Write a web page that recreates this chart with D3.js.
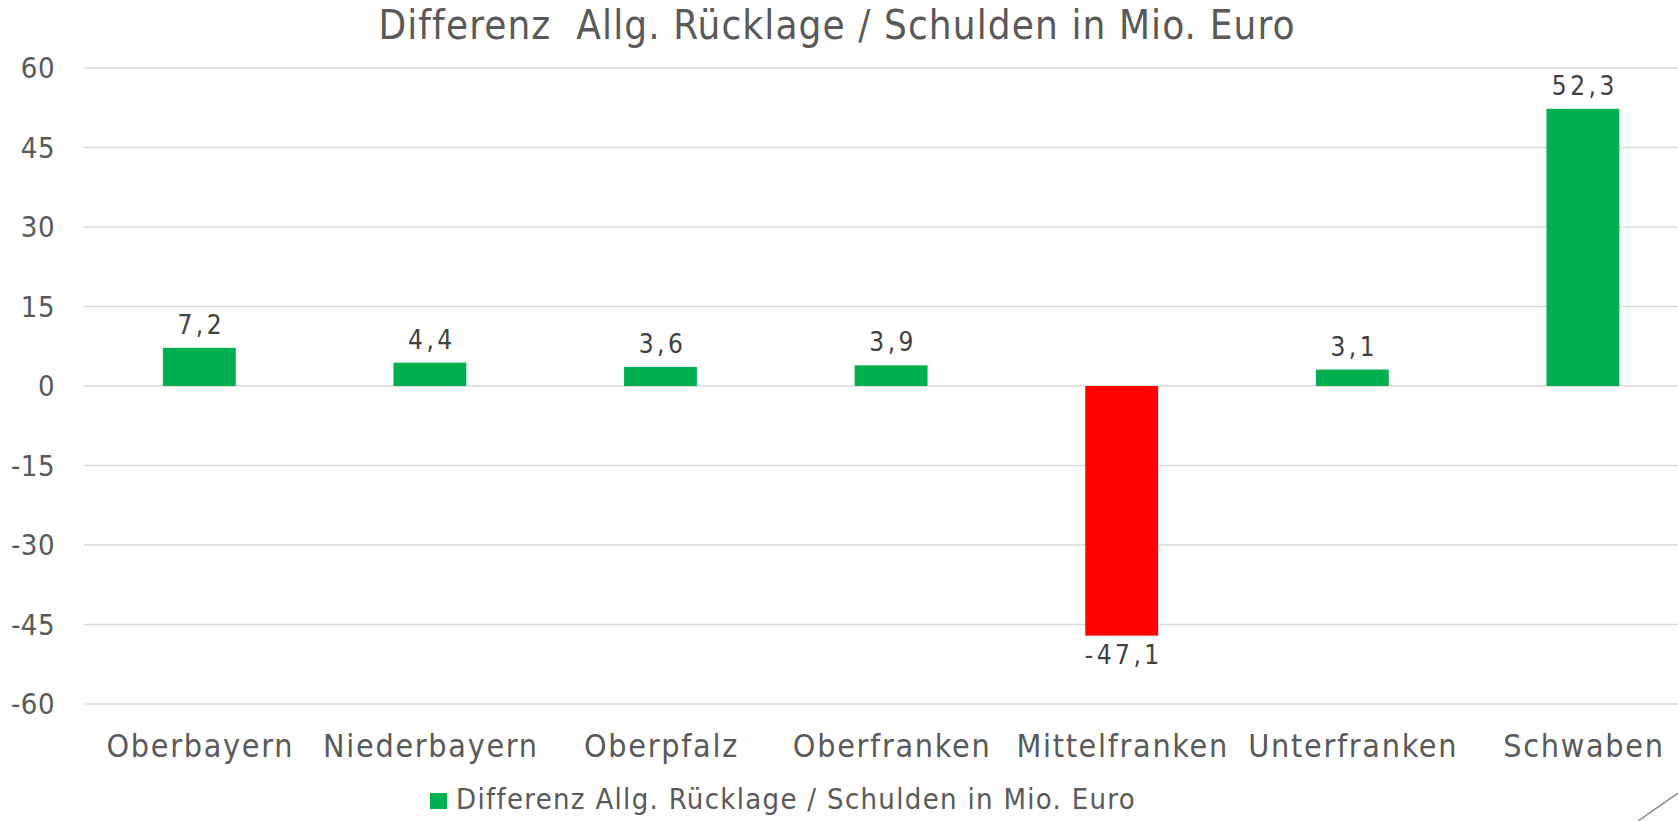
<!DOCTYPE html>
<html>
<head>
<meta charset="utf-8">
<script src="https://cdn.jsdelivr.net/npm/d3@7"></script>
<style>
  body { margin: 0; background: #fff; }
  svg { display: block; }
  text { font-family: "DejaVu Sans Condensed", "DejaVu Sans", sans-serif; fill: #595959; }
</style>
</head>
<body>
<svg id="chart" width="1678" height="821"></svg>
<script>
// data
const categories = ["Oberbayern", "Niederbayern", "Oberpfalz", "Oberfranken", "Mittelfranken", "Unterfranken", "Schwaben"];
const values = [7.2, 4.4, 3.6, 3.9, -47.1, 3.1, 52.3];
const yTicks = [-60, -45, -30, -15, 0, 15, 30, 45, 60];
const seriesName = "Differenz Allg. Rücklage / Schulden in Mio. Euro";
const titleText = "Differenz  Allg. Rücklage / Schulden in Mio. Euro";

window.addEventListener("load", drawChart);
function drawChart() {
    const svg = d3.select("#chart");
    // german decimal comma, plain hyphen for negatives
    const deFmt = d3.formatLocale({ decimal: ",", thousands: ".", grouping: [3], currency: ["", " €"], minus: "-" }).format(".1f");

    let step = 230.6, left = 84;
    let x = d3.scaleBand()
      .domain(categories)
      .range([left, left + step * categories.length])
      .paddingInner(0.684)
      .paddingOuter(0.342);

    let y = d3.scaleLinear().domain([-60, 60]).range([704, 68]);

    // gridlines
    svg.append("g")
      .selectAll("line")
      .data(yTicks)
      .join("line")
        .attr("x1", left)
        .attr("x2", 1678)
        .attr("y1", d => y(d))
        .attr("y2", d => y(d))
        .attr("stroke", "#d9d9d9")
        .attr("stroke-width", 1.5);

    // y tick labels
    svg.append("g")
      .selectAll("text")
      .data(yTicks)
      .join("text")
        .attr("x", 55)
        .attr("y", d => y(d))
        .attr("dy", "0.36em")
        .attr("text-anchor", "end")
        .style("font-size", "29px")
        .style("letter-spacing", "0.5px")
        .text(d => d);

    // bars
    let data = categories.map((c, i) => ({ cat: c, val: values[i] }));
    svg.append("g")
      .selectAll("rect")
      .data(data)
      .join("rect")
        .attr("x", d => x(d.cat))
        .attr("width", x.bandwidth())
        .attr("y", d => y(Math.max(0, d.val)))
        .attr("height", d => Math.abs(y(d.val) - y(0)))
        .attr("fill", d => d.val < 0 ? "#ff0000" : "#00b050");

    // data labels
    svg.append("g")
      .selectAll("text")
      .data(data)
      .join("text")
        .attr("x", d => x(d.cat) + x.bandwidth() / 2 + 2)
        .attr("y", d => d.val < 0 ? y(d.val) + 28 : y(d.val) - 14)
        .attr("text-anchor", "middle")
        .style("font-size", "26px")
        .style("letter-spacing", "3.5px")
        .style("fill", "#404040")
        .text(d => deFmt(d.val));

    // category labels
    svg.append("g")
      .selectAll("text")
      .data(categories)
      .join("text")
        .attr("x", d => x(d) + x.bandwidth() / 2 + 1)
        .attr("y", 757)
        .attr("text-anchor", "middle")
        .style("font-size", "32px")
        .style("letter-spacing", "1.7px")
        .text(d => d);

    // title
    svg.append("text")
      .attr("x", 837)
      .attr("y", 39)
      .attr("text-anchor", "middle")
      .style("font-size", "40px")
      .style("letter-spacing", "1.1px")
      .style("white-space", "pre")
      .attr("xml:space", "preserve")
      .text(titleText);

    // legend
    let lg = svg.append("g").attr("transform", "translate(430,793)");
    lg.append("rect").attr("width", 17).attr("height", 16).attr("fill", "#00b050");
    lg.append("text")
      .attr("x", 26)
      .attr("y", 16)
      .style("font-size", "29px")
      .style("letter-spacing", "1.3px")
      .text(seriesName);

    // slide decoration line in the corner
    svg.append("line")
      .attr("x1", 1638).attr("y1", 821)
      .attr("x2", 1678).attr("y2", 793)
      .attr("stroke", "#8e7f9a")
      .attr("stroke-width", 1.5);
}
</script>
</body>
</html>
